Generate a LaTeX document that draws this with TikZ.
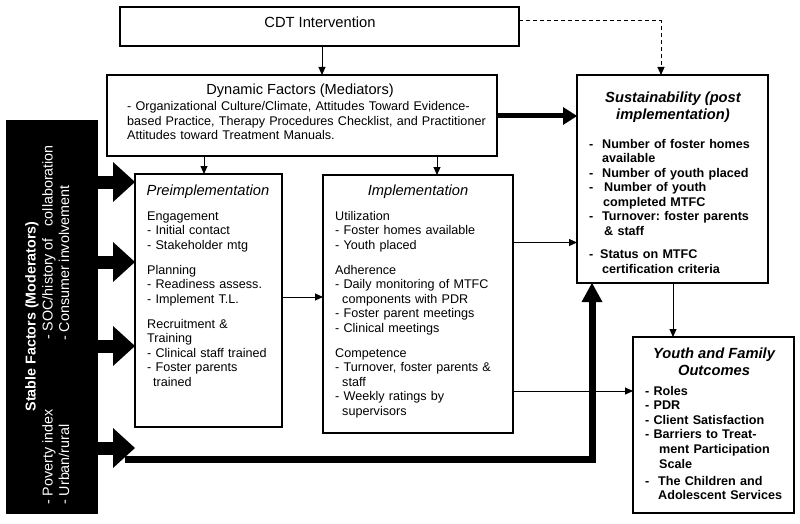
\documentclass[tikz,border=0pt]{standalone}
\usepackage{fontspec}
\setmainfont{Liberation Sans}
\usetikzlibrary{arrows.meta}
\frenchspacing
\begin{document}
\begin{tikzpicture}[x=1pt,y=-1pt,
  box/.style={draw, line width=1.1pt, inner sep=0pt, outer sep=0pt, anchor=north west},
  body/.style={font=\fontsize{12.6}{14.5}\selectfont, anchor=base west, inner sep=0pt, align=left},
  bodyb/.style={body, font=\fontsize{12.6}{14.6}\selectfont\bfseries},
  head/.style={font=\fontsize{14.7}{17}\selectfont\itshape, anchor=base, inner sep=0pt},
  headb/.style={head, font=\fontsize{14.7}{17}\selectfont\bfseries\itshape},
  stab/.style={white, rotate=90, inner sep=0pt, font=\fontsize{14.3}{17}\selectfont},
  conn/.style={line width=1pt, -{Triangle[length=8pt,width=7pt]}},
  bigarrow/.style={line width=13pt, -{Triangle[length=22pt,width=40pt,line width=0pt]}},
  thickarrow/.style={line width=5pt, -{Triangle[length=14pt,width=18pt,line width=0pt]}},
  heavy/.style={line width=7pt, line join=miter, -{Triangle[length=19pt,width=21pt,line width=0pt]}}
]
\fill[white] (0,0) rectangle (800,524);
\useasboundingbox (0,0) rectangle (800,524);

% boxes
\node[box, minimum width=399pt, minimum height=39pt] (cdt) at (120,7) {};
\node[box, minimum width=390pt, minimum height=81pt] (dyn) at (107,75) {};
\node[box, minimum width=191pt, minimum height=208pt] (sust) at (577,75) {};
\node[box, minimum width=147pt, minimum height=253pt] (pre) at (135,174) {};
\node[box, minimum width=190pt, minimum height=258pt] (impl) at (323,175) {};
\node[box, minimum width=161pt, minimum height=176pt] (yfo) at (633,337) {};
\node[box, fill=black, minimum width=90pt, minimum height=392pt] (stable) at (7,121) {};

% helper coordinates
\coordinate (x322) at (322,0);
\coordinate (x204) at (204,0);
\coordinate (x437) at (437,0);
\coordinate (x661) at (661,0);
\coordinate (x673) at (673,0);
\coordinate (x592) at (592,0);
\coordinate (y21) at (0,21);
\coordinate (y116) at (0,116);
\coordinate (y297) at (0,297);
\coordinate (y242) at (0,242.5);
\coordinate (y391) at (0,391);
\coordinate (y182) at (0,182);
\coordinate (y262) at (0,262);
\coordinate (y346) at (0,346);
\coordinate (y448) at (0,448);
\coordinate (a4) at (135,448);
\coordinate (h0) at (125,459);

% connectors
\draw[conn] (cdt.south -| x322) -- (dyn.north -| x322);
\draw[conn, dash pattern=on 4pt off 3pt] (cdt.east |- y21) -| (sust.north -| x661);
\draw[conn] (dyn.south -| x204) -- (pre.north -| x204);
\draw[conn] (dyn.south -| x437) -- (impl.north -| x437);
\draw[thickarrow] (dyn.east |- y116) -- (sust.west |- y116);
\draw[conn] (pre.east |- y297) -- (impl.west |- y297);
\draw[conn] (impl.east |- y242) -- (sust.west |- y242);
\draw[conn] (impl.east |- y391) -- (yfo.west |- y391);
\draw[conn] (sust.south -| x673) -- (yfo.north -| x673);
\draw[bigarrow] (stable.east |- y182) -- (pre.west |- y182);
\draw[bigarrow] (stable.east |- y262) -- (pre.west |- y262);
\draw[bigarrow] (stable.east |- y346) -- (pre.west |- y346);
\draw[bigarrow] (stable.east |- y448) -- (a4);
\draw[heavy] (h0) -| (sust.south -| x592);

% texts
\node[font=\fontsize{14.7}{17}\selectfont, anchor=base, inner sep=0pt] (cdtt) at (320,28) {CDT Intervention};

\node[font=\fontsize{14.6}{17}\selectfont, anchor=base, inner sep=0pt] (dynt) at (300,95) {Dynamic Factors (Mediators)};
\node[body, font=\fontsize{12.6}{14.3}\selectfont, text width=365pt] (dynb) at (127,111) {- Organizational Culture/Climate, Attitudes Toward Evidence-\\based Practice, Therapy Procedures Checklist, and Practitioner\\Attitudes toward Treatment Manuals.};

\node[head] (pret) at (208,195) {Preimplementation};
\node[body, text width=132pt] (preb) at (147,220) {Engagement\\
- Initial contact\\
- Stakeholder mtg\\[10.5pt]
Planning\\
- Readiness assess.\\
- Implement T.L.\\[10.5pt]
Recruitment \&\\
Training\\
- Clinical staff trained\\
- Foster parents\\
\hspace*{6pt}trained};

\node[head] (implt) at (418,195) {Implementation};
\node[body, text width=175pt] (implb) at (335,220) {Utilization\\
- Foster homes available\\
- Youth placed\\[10.5pt]
Adherence\\
- Daily monitoring of MTFC\\
\hspace*{7pt}components with PDR\\
- Foster parent meetings\\
- Clinical meetings\\[10.5pt]
Competence\\
- Turnover, foster parents \&\\
\hspace*{7pt}staff\\
- Weekly ratings by\\
\hspace*{7pt}supervisors};

\node[headb] (sustt1) at (673,103) {Sustainability (post};
\node[headb] (sustt2) at (673,120) {implementation)};
\node[bodyb, text width=178pt] (sustb) at (589,148) {\makebox[13pt][l]{-}Number of foster homes\\
\hspace*{13pt}available\\
\makebox[13pt][l]{-}Number of youth placed\\
\makebox[15pt][l]{-}Number of youth\\
\hspace*{14pt}completed MTFC\\
\makebox[13pt][l]{-}Turnover: foster parents\\
\hspace*{15pt}\& staff\\[8.4pt]
\makebox[11pt][l]{-}Status on MTFC\\
\hspace*{13pt}certification criteria};

\node[headb] (yfot1) at (714,358) {Youth and Family};
\node[headb] (yfot2) at (714,375) {Outcomes};
\node[bodyb, text width=150pt] (yfob) at (645,395) {- Roles\\
- PDR\\
- Client Satisfaction\\
- Barriers to Treat-\\
\hspace*{14pt}ment Participation\\
\hspace*{14pt}Scale\\[2.4pt]
\makebox[13pt][l]{-}The Children and\\
\hspace*{13pt}Adolescent Services};

\node[stab, font=\fontsize{14.3}{17}\selectfont\bfseries, anchor=base] (stt) at (35.5,316.5) {Stable Factors (Moderators)};
\node[stab, anchor=base west] (pov) at (52.5,505) {- Poverty index};
\node[stab, anchor=base west] (urb) at (69,505) {- Urban/rural};
\node[stab, anchor=base west] (soc) at (52.5,340) {- SOC/history of\ \ \ collaboration};
\node[stab, anchor=base west] (con) at (69,341) {- Consumer involvement};
\end{tikzpicture}
\end{document}
